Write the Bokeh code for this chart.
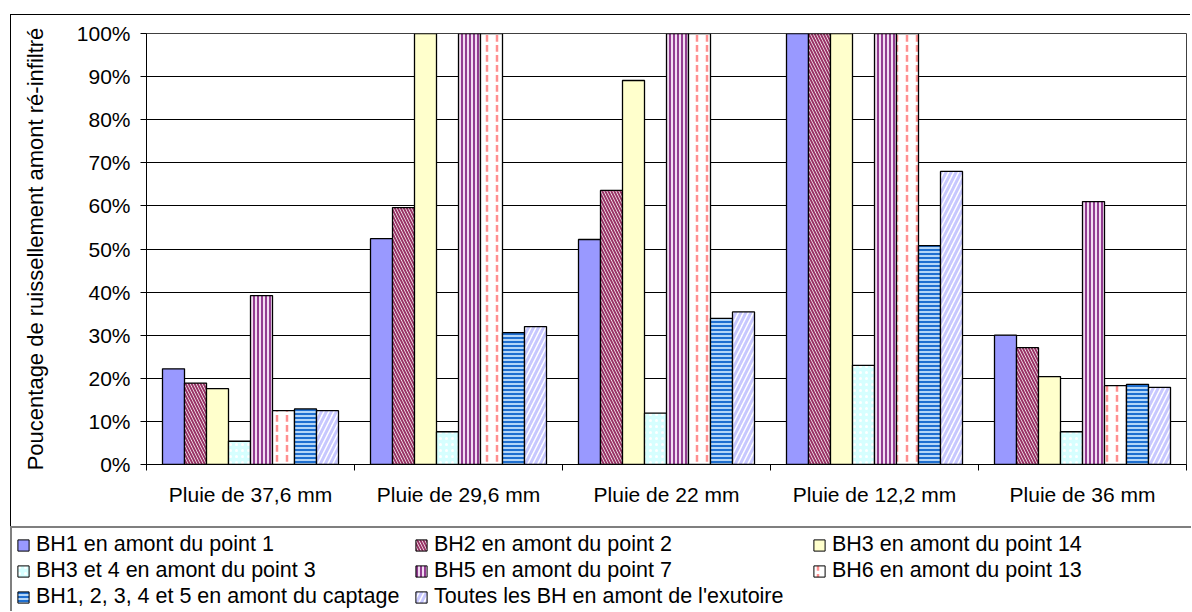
from bokeh.plotting import figure
from bokeh.layouts import column
from bokeh.models import (Range1d, FixedTicker, NumeralTickFormatter, Legend, LegendItem,
                          ColumnDataSource)
from bokeh.embed import file_html
from bokeh.resources import INLINE

# ---------------- data ----------------
categories = ["Pluie de 37,6 mm", "Pluie de 29,6 mm", "Pluie de 22 mm",
              "Pluie de 12,2 mm", "Pluie de 36 mm"]
series_names = ["BH1 en amont du point 1", "BH2 en amont du point 2", "BH3 en amont du point 14",
                "BH3 et 4 en amont du point 3", "BH5 en amont du point 7", "BH6 en amont du point 13",
                "BH1, 2, 3, 4 et 5 en amont du captage", "Toutes les BH en amont de l'exutoire"]
bh1 = [22.2, 52.4, 52.2, 100, 30.0]
bh2 = [18.9, 59.6, 63.6, 100, 27.1]
bh3_p14 = [17.6, 100, 89.1, 100, 20.4]
bh34 = [5.4, 7.6, 11.9, 23.0, 7.6]
bh5 = [39.2, 100, 100, 100, 61.0]
bh6 = [12.5, 100, 100, 100, 18.3]
captage = [12.9, 30.6, 33.9, 50.8, 18.6]
toutes = [12.5, 32.0, 35.4, 68.0, 17.9]
y_ticks = [0, 0.1, 0.2, 0.3, 0.4, 0.5, 0.6, 0.7, 0.8, 0.9, 1.0]

series_values = [bh1, bh2, bh3_p14, bh34, bh5, bh6, captage, toutes]

FONT = "Liberation Sans"

styles = [
    dict(fill_color="#9999FF"),
    dict(fill_color="white", hatch_pattern="left_diagonal_line", hatch_color="#993366",
         hatch_scale=6, hatch_weight=2),
    dict(fill_color="#FFFFCC"),
    dict(fill_color="#D6FFFF", hatch_pattern="dot", hatch_color="white", hatch_scale=6, hatch_weight=1),
    dict(fill_color="#F2DCF2", hatch_pattern="vertical_line", hatch_color="#7A1479",
         hatch_scale=4, hatch_weight=1.6),
    dict(fill_color="white", hatch_pattern="vertical_dash", hatch_color="#FF9090",
         hatch_scale=10, hatch_weight=2.5),
    dict(fill_color="#B4D6F8", hatch_pattern="horizontal_line", hatch_color="#1F6FD0",
         hatch_scale=4, hatch_weight=2),
    dict(fill_color="white", hatch_pattern="right_diagonal_line", hatch_color="#C8C8FF",
         hatch_scale=10, hatch_weight=3),
]

# ---------------- chart ----------------
p = figure(width=1180, height=512, output_backend="svg", toolbar_location=None,
           x_range=Range1d(0, len(categories)), y_range=Range1d(0, 1),
           min_border_left=135, min_border_right=5, min_border_top=18, min_border_bottom=63,
           styles={"border-left": "1px solid black", "border-top": "1px solid black"})
p.frame_align = False
p.background_fill_color = "white"
p.border_fill_color = "white"
p.outline_line_color = "#404040"
p.outline_line_width = 1

# ---------------- legend strip ----------------
pl = figure(width=1181, height=85, output_backend="svg", toolbar_location=None,
            x_axis_type=None, y_axis_type=None, min_border=0,
            x_range=Range1d(-20, -19), y_range=Range1d(-20, -19))
pl.frame_align = False
pl.outline_line_color = None
pl.grid.visible = False
pl.background_fill_color = "white"
pl.border_fill_color = "white"

n = len(series_names)
bw = 22.0 / 208.0
items = []
for i, (name, vals) in enumerate(zip(series_names, series_values)):
    xs = [g + 0.5 + (i - (n - 1) / 2.0) * bw for g in range(len(categories))]
    src = ColumnDataSource(dict(x=xs, top=[v / 100.0 for v in vals]))
    p.vbar(x="x", top="top", bottom=0, width=bw, source=src,
           line_color="black", line_width=1.3, **styles[i])
    # legend key swatch: same series, outside the strip's visible range
    key = pl.vbar(x="x", top="top", bottom=0, width=bw, source=src,
                  line_color="black", line_width=1, **styles[i])
    items.append(LegendItem(label=name, renderers=[key]))

# y axis
p.yaxis.ticker = FixedTicker(ticks=y_ticks)
p.yaxis.formatter = NumeralTickFormatter(format="0%")
p.yaxis.major_tick_out = 6
p.yaxis.major_tick_in = 0
p.yaxis.minor_tick_line_color = None
p.yaxis.major_label_standoff = 10
p.yaxis.major_label_text_font = FONT
p.yaxis.major_label_text_font_size = "21px"
p.yaxis.major_label_text_color = "black"
p.yaxis.axis_line_color = "black"
p.yaxis.major_tick_line_color = "black"
p.yaxis.axis_label = "Poucentage de ruissellement amont ré-infiltré"
p.yaxis.axis_label_text_font = FONT
p.yaxis.axis_label_text_font_size = "22px"
p.yaxis.axis_label_text_font_style = "normal"
p.yaxis.axis_label_text_color = "black"
p.yaxis.axis_label_standoff = 26

# x axis
centers = [g + 0.5 for g in range(len(categories))]
p.xaxis.ticker = FixedTicker(ticks=centers, minor_ticks=list(range(len(categories) + 1)))
p.xaxis.major_label_overrides = {c: lab for c, lab in zip(centers, categories)}
p.xaxis.major_tick_line_color = None
p.xaxis.major_tick_out = 0
p.xaxis.major_tick_in = 0
p.xaxis.minor_tick_out = 6
p.xaxis.minor_tick_in = 0
p.xaxis.minor_tick_line_color = "black"
p.xaxis.axis_line_color = "black"
p.xaxis.major_label_standoff = 12
p.xaxis.major_label_text_font = FONT
p.xaxis.major_label_text_font_size = "21px"
p.xaxis.major_label_text_color = "black"

p.xgrid.visible = False
p.ygrid.grid_line_color = "black"
p.ygrid.grid_line_width = 1

legend = Legend(items=items, location="top_left", orientation="horizontal", ncols=3,
                label_text_font=FONT, label_text_font_size="21.5px", label_text_color="black",
                glyph_width=14, glyph_height=14, label_standoff=6, padding=4, spacing=1,
                label_width=377, label_height=24, border_line_color="black", border_line_width=2,
                background_fill_alpha=0, margin=0)
pl.add_layout(legend)

layout = column(p, pl, spacing=0, margin=(14, 0, 0, 10))

open("out.html", "w").write(file_html(layout, INLINE))
